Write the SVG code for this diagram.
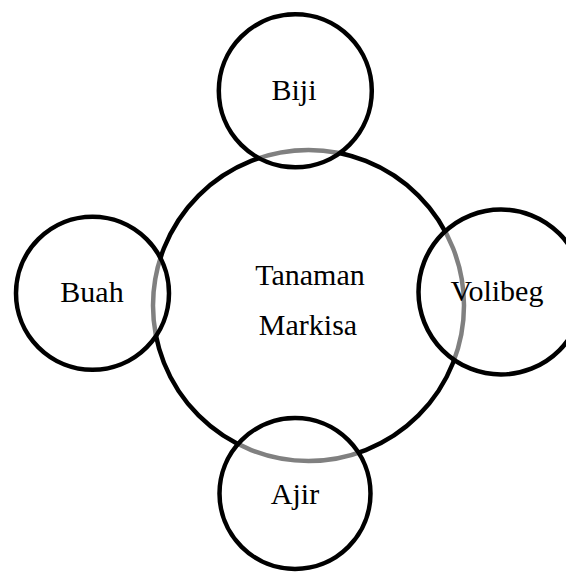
<svg xmlns="http://www.w3.org/2000/svg" width="566" height="572" viewBox="0 0 566 572">
<style>
.big{fill:none;stroke:#000;stroke-width:4.5}
.small{fill:#fff;fill-opacity:0.5;stroke:#000;stroke-width:4.5}
text{font-family:"Liberation Serif","Times New Roman",serif;font-size:30px;fill:#000;text-anchor:middle}
</style>
<rect width="566" height="572" fill="#fff"/>
<g id="tanaman-markisa">
<circle class="big" cx="308.5" cy="305.5" r="155.5"/>
</g>
<g id="biji">
<circle class="small" cx="295.3" cy="90.8" r="76.5"/>
<text x="294" y="100">Biji</text>
</g>
<g id="buah">
<circle class="small" cx="92.5" cy="293.3" r="76.5"/>
<text x="92" y="302">Buah</text>
</g>
<g id="volibeg">
<circle class="small" cx="501" cy="292" r="82.5"/>
<text x="497" y="301">Volibeg</text>
</g>
<g id="ajir">
<circle class="small" cx="295" cy="493.5" r="75.5"/>
<text x="295" y="504">Ajir</text>
</g>
<g id="center-label">
<text x="310" y="285">Tanaman</text>
<text x="308" y="335">Markisa</text>
</g>
</svg>
